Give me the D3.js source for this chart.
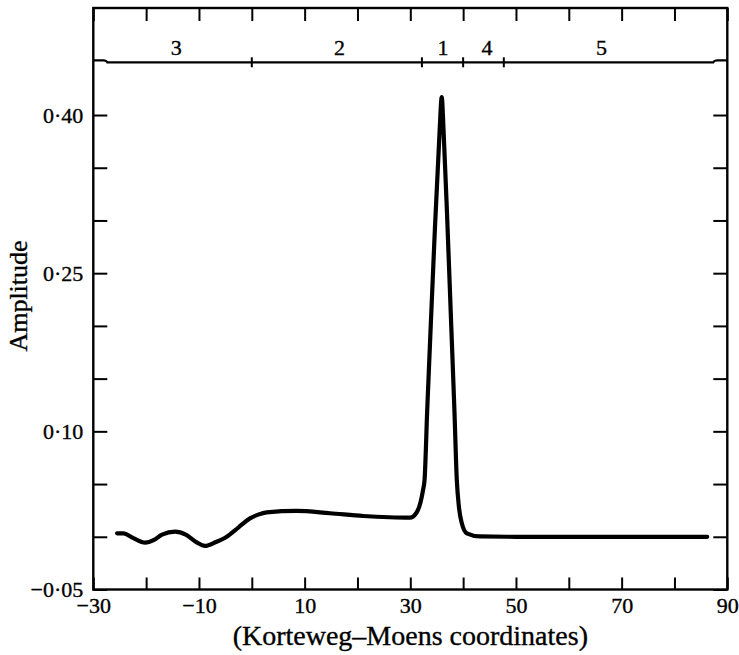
<!DOCTYPE html>
<html>
<head>
<meta charset="utf-8">
<script src="https://cdn.jsdelivr.net/npm/d3@7"></script>
<style>
  html, body { margin: 0; padding: 0; background: #fff; }
  svg { display: block; }
  text { font-family: "Liberation Serif", "Times New Roman", serif; fill: #000; stroke: #000; stroke-width: 0.35px; }
</style>
</head>
<body>
<svg id="chart" width="739" height="655"></svg>
<script>
// ---- data ----
const position = [-25.5, -24.3, -22.5, -20.2, -18.5, -17.0, -14.5, -12.5, -10.5, -8.86, -6.8, -4.75, -2.5, -0.34, 1.2, 2.82, 8.5, 14.8, 21.1, 26.0, 29.95, 31.1, 31.9, 32.4, 32.7, 33.2, 33.7, 34.55, 35.55, 35.95, 36.3, 37.0, 37.75, 38.35, 38.8, 39.2, 39.75, 40.7, 43.2, 50, 60, 70, 80, 86.2];
const amplitude = [0.0033, 0.0033, -0.001, -0.0056, -0.003, 0.002, 0.0048, 0.002, -0.005, -0.0087, -0.005, 0.0001, 0.009, 0.0175, 0.021, 0.0232, 0.0245, 0.0223, 0.0197, 0.0185, 0.0181, 0.0223, 0.032, 0.044, 0.054, 0.12, 0.18, 0.28, 0.385, 0.417, 0.385, 0.30, 0.20, 0.12, 0.054, 0.0285, 0.0128, 0.0033, 0.0003, 0.0, 0.0, 0.0, 0.0, 0.0];

const xTicks = [-30, -20, -10, 0, 10, 20, 30, 40, 50, 60, 70, 80, 90];
const xTickLabels = [-30, -10, 10, 30, 50, 70, 90];
const yTicks = [-0.05, 0, 0.05, 0.10, 0.15, 0.20, 0.25, 0.30, 0.35, 0.40];
const yTickLabels = [-0.05, 0.10, 0.25, 0.40];

const regionBounds = [0, 32.2, 40, 47.7];
const regionLabels = ["3", "2", "1", "4", "5"];
const regionLabelPos = [-14.3, 16.6, 36.2, 44.5, 66.2];

const xTitle = "(Korteweg–Moens coordinates)";
const yTitle = "Amplitude";

// ---- layout ----
const mLeft = 93.3, mRight = 727.3, mTop = 8, mBottom = 589.5;
const svg = d3.select("#chart");

const x = d3.scaleLinear().domain([-30, 90]).range([mLeft, mRight]);
const y = d3.scaleLinear().domain([-0.05, 0.45]).range([mBottom, 62.3]);

const fmtY = d => (d < 0 ? "−" : "") + Math.abs(d).toFixed(2).replace(".", "·");
const fmtX = d => (d < 0 ? "−" : "") + Math.abs(d);

// frame
svg.append("rect")
  .attr("x", mLeft).attr("y", mTop)
  .attr("width", mRight - mLeft).attr("height", mBottom - mTop)
  .attr("fill", "none").attr("stroke", "#000").attr("stroke-width", 2.4);

// bottom axis
const gx = svg.append("g").attr("transform", `translate(0,${mBottom})`)
  .call(d3.axisBottom(x).tickValues(xTicks).tickSizeInner(-12).tickSizeOuter(0).tickPadding(8)
    .tickFormat(d => xTickLabels.includes(d) ? fmtX(d) : ""));
// top axis (ticks only)
const gxt = svg.append("g").attr("transform", `translate(0,${mTop})`)
  .call(d3.axisBottom(x).tickValues(xTicks).tickSizeInner(13).tickSizeOuter(0).tickFormat(""));
// left axis
const gy = svg.append("g").attr("transform", `translate(${mLeft},0)`)
  .call(d3.axisLeft(y).tickValues(yTicks).tickSizeInner(-14).tickSizeOuter(0).tickPadding(10)
    .tickFormat(d => yTickLabels.some(v => Math.abs(v - d) < 1e-9) ? fmtY(d) : ""));
// right axis (ticks only)
const gyr = svg.append("g").attr("transform", `translate(${mRight},0)`)
  .call(d3.axisRight(y).tickValues(yTicks).tickSizeInner(-14).tickSizeOuter(0).tickFormat(""));

[gx, gxt, gy, gyr].forEach(g => {
  g.select(".domain").remove();
  g.selectAll(".tick line").attr("stroke", "#000").attr("stroke-width", 2);
  g.selectAll("text").attr("font-family", '"Liberation Serif", serif').attr("font-size", 22).attr("fill", "#000");
});

// top strip separator line with bracket ends
const yStrip = y(0.45);
const strip = d3.path();
strip.moveTo(mLeft, yStrip - 2);
strip.lineTo(mLeft + 10, yStrip - 2);
strip.quadraticCurveTo(mLeft + 13, yStrip - 2, mLeft + 14, yStrip);
strip.lineTo(mRight - 14, yStrip);
strip.quadraticCurveTo(mRight - 13, yStrip - 2, mRight - 10, yStrip - 2);
strip.lineTo(mRight, yStrip - 2);
svg.append("path").attr("d", strip.toString())
  .attr("fill", "none").attr("stroke", "#000").attr("stroke-width", 2.2);

// region boundary ticks
svg.append("g").selectAll("line").data(regionBounds).join("line")
  .attr("x1", d => x(d)).attr("x2", d => x(d))
  .attr("y1", yStrip - 5).attr("y2", yStrip + 5)
  .attr("stroke", "#000").attr("stroke-width", 2);

// region labels
svg.append("g").selectAll("text").data(regionLabels).join("text")
  .attr("x", (d, i) => x(regionLabelPos[i])).attr("y", 55)
  .attr("text-anchor", "middle").attr("font-size", 22)
  .text(d => d);

// curve
const pts = position.map((p, i) => [p, amplitude[i]]);
const line = d3.line().x(d => x(d[0])).y(d => y(d[1])).curve(d3.curveMonotoneX);
svg.append("path").datum(pts)
  .attr("d", line)
  .attr("fill", "none").attr("stroke", "#000").attr("stroke-width", 4.2)
  .attr("stroke-linejoin", "round").attr("stroke-linecap", "round");

// axis titles
svg.append("text")
  .attr("x", (mLeft + mRight) / 2).attr("y", 645)
  .attr("text-anchor", "middle").attr("font-size", 28)
  .text(xTitle);
svg.append("text")
  .attr("transform", "translate(27,296) rotate(-90)")
  .attr("text-anchor", "middle").attr("font-size", 26)
  .text(yTitle);
</script>
</body>
</html>
